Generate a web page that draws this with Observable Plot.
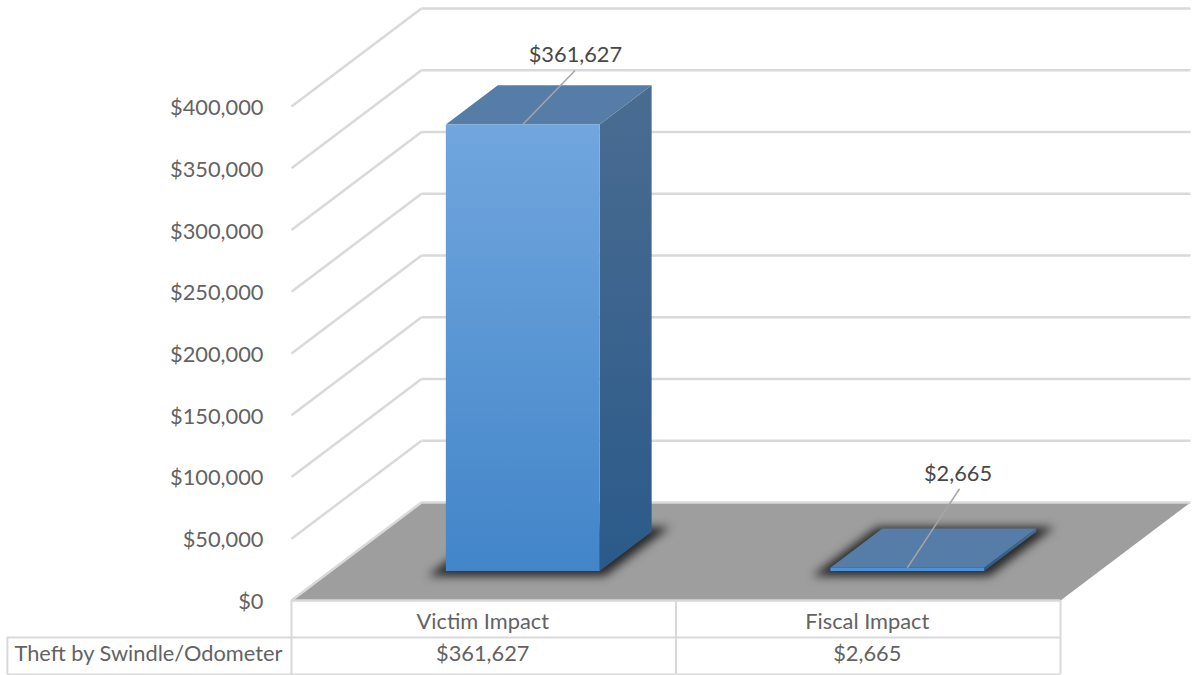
<!DOCTYPE html>
<html>
<head>
<meta charset="utf-8">
<script src="https://cdn.jsdelivr.net/npm/d3@7"></script>
<script src="https://cdn.jsdelivr.net/npm/@observablehq/plot@0.6"></script>
<style>html,body{margin:0;padding:0;background:#fff}svg{display:block}</style>
</head>
<body>
<div id="chart"></div>
<script>
// Data
const categories = ["Victim Impact", "Fiscal Impact"];
const values = [361627, 2665];
const seriesName = "Theft by Swindle/Odometer";
const yTicks = [0, 50000, 100000, 150000, 200000, 250000, 300000, 350000, 400000];

// Oblique projection of the 3D scene into x (category units) and y (dollars)
const depthX = 0.338, depthY = 79400;
const barStart = 0.3, barEnd = 0.7, depthStart = 0.3, depthEnd = 0.7;
const rowH = 29960;
const px = (c, d) => c + d * depthX;
const py = (v, d) => v + d * depthY;
const fmt = d3.format("$,");
const gray = "#d9d9d9", textColor = "#636363", labelColor = "#484848";
const font = "Lato, 'Open Sans', sans-serif", fs = 21.8;

const poly = (corners) => corners.map(([c, d, v]) => ({x: px(c, d), y: py(v, d)}));
const face = (corners, fill, extra = {}) =>
  Plot.line(poly(corners), {x: "x", y: "y", fill, stroke: "none", ...extra});

const gradient = () => {
  const defs = d3.create("svg:defs");
  const add = (id, a, b) => {
    const g = defs.append("linearGradient").attr("id", id)
      .attr("x1", 0).attr("y1", 0).attr("x2", 0).attr("y2", 1);
    g.append("stop").attr("offset", "0%").attr("stop-color", a);
    g.append("stop").attr("offset", "100%").attr("stop-color", b);
  };
  add("gradFront", "#71a6de", "#4285c9");
  add("gradSide", "#4a6c91", "#2b5a8a");
  return defs.node();
};

const barMarks = [];
values.forEach((v, i) => {
  const l = i + barStart, r = i + barEnd;
  // soft contact shadow on the floor
  barMarks.push(face([
    [l - 0.03, depthStart - 0.05, 0], [r + 0.03, depthStart - 0.05, 0],
    [r + 0.03, depthEnd + 0.05, 0], [l - 0.03, depthEnd + 0.05, 0]
  ], "#262626", {imageFilter: "blur(5px)"}));
  barMarks.push(face([[r, depthStart, 0], [r, depthEnd, 0], [r, depthEnd, v], [r, depthStart, v]], "url(#gradSide)"));
  barMarks.push(face([[l, depthStart, v], [r, depthStart, v], [r, depthEnd, v], [l, depthEnd, v]], "#567da8"));
  barMarks.push(face([[l, depthStart, 0], [r, depthStart, 0], [r, depthStart, v], [l, depthStart, v]],
    i === 0 ? "url(#gradFront)" : "#4a92da"));
});

const labels = values.map((v, i) => {
  const x = px(i + 0.5, depthStart), y = py(v, depthStart);
  const lift = [43700, 64000][i];
  return {x1: x, y1: y, x2: x + 0.136, y2: y + lift, tx: x + 0.136 + [0.001, -0.004][i], ty: y + lift + 13000, text: fmt(v)};
});

const chart = Plot.plot({
  width: 1193, height: 675,
  marginLeft: 291, marginRight: 3, marginTop: 8, marginBottom: 75,
  style: {fontFamily: font, background: "#fff", overflow: "visible"},
  x: {domain: [0, categories.length + depthX], axis: null},
  y: {domain: [0, 400000 + depthY], axis: null},
  marks: [
    gradient,
    // floor
    face([[0, 0, 0], [2, 0, 0], [2, 1, 0], [0, 1, 0]], "#9e9e9e"),
    // wall gridlines
    Plot.link(yTicks, {x1: 0, y1: d => d, x2: depthX, y2: d => d + depthY, stroke: gray, strokeWidth: 2.5}),
    Plot.link(yTicks, {x1: depthX, y1: d => d + depthY, x2: 2 + depthX, y2: d => d + depthY, stroke: gray, strokeWidth: 2.5}),
    // y axis labels
    Plot.axisY(yTicks, {tickFormat: fmt, tickSize: 0, tickPadding: 28, fontSize: fs, fill: textColor, label: null, dy: 1.5}),
    ...barMarks,
    // leader lines and data labels
    Plot.link(labels, {x1: "x1", y1: "y1", x2: "x2", y2: "y2", stroke: "#a6a6a6", strokeWidth: 1.5}),
    Plot.text(labels, {x: "tx", y: "ty", text: "text", fontSize: fs, fill: labelColor, dy: 1}),
    // data table
    Plot.ruleY([0], {x1: 0, x2: 2, stroke: gray, strokeWidth: 2.5}),
    Plot.ruleY([-rowH, -2 * rowH], {x1: -0.739, x2: 2, stroke: gray, strokeWidth: 2}),
    Plot.ruleX([0, 1, 2], {y1: -2 * rowH, y2: 0, stroke: gray, strokeWidth: 2}),
    Plot.ruleX([-0.739], {y1: -2 * rowH, y2: -rowH, stroke: gray, strokeWidth: 2}),
    Plot.text(categories, {x: (d, i) => i + 0.5, y: -17800, text: d => d, fontSize: fs, fill: textColor, dx: -1}),
    Plot.text(values, {x: (d, i) => i + 0.5, y: -43700, text: d => fmt(d), fontSize: fs, fill: textColor, dx: -1}),
    Plot.text([seriesName], {x: -0.372, y: -43700, text: d => d, fontSize: fs, fill: textColor})
  ]
});
document.getElementById("chart").append(chart);
</script>
</body>
</html>
